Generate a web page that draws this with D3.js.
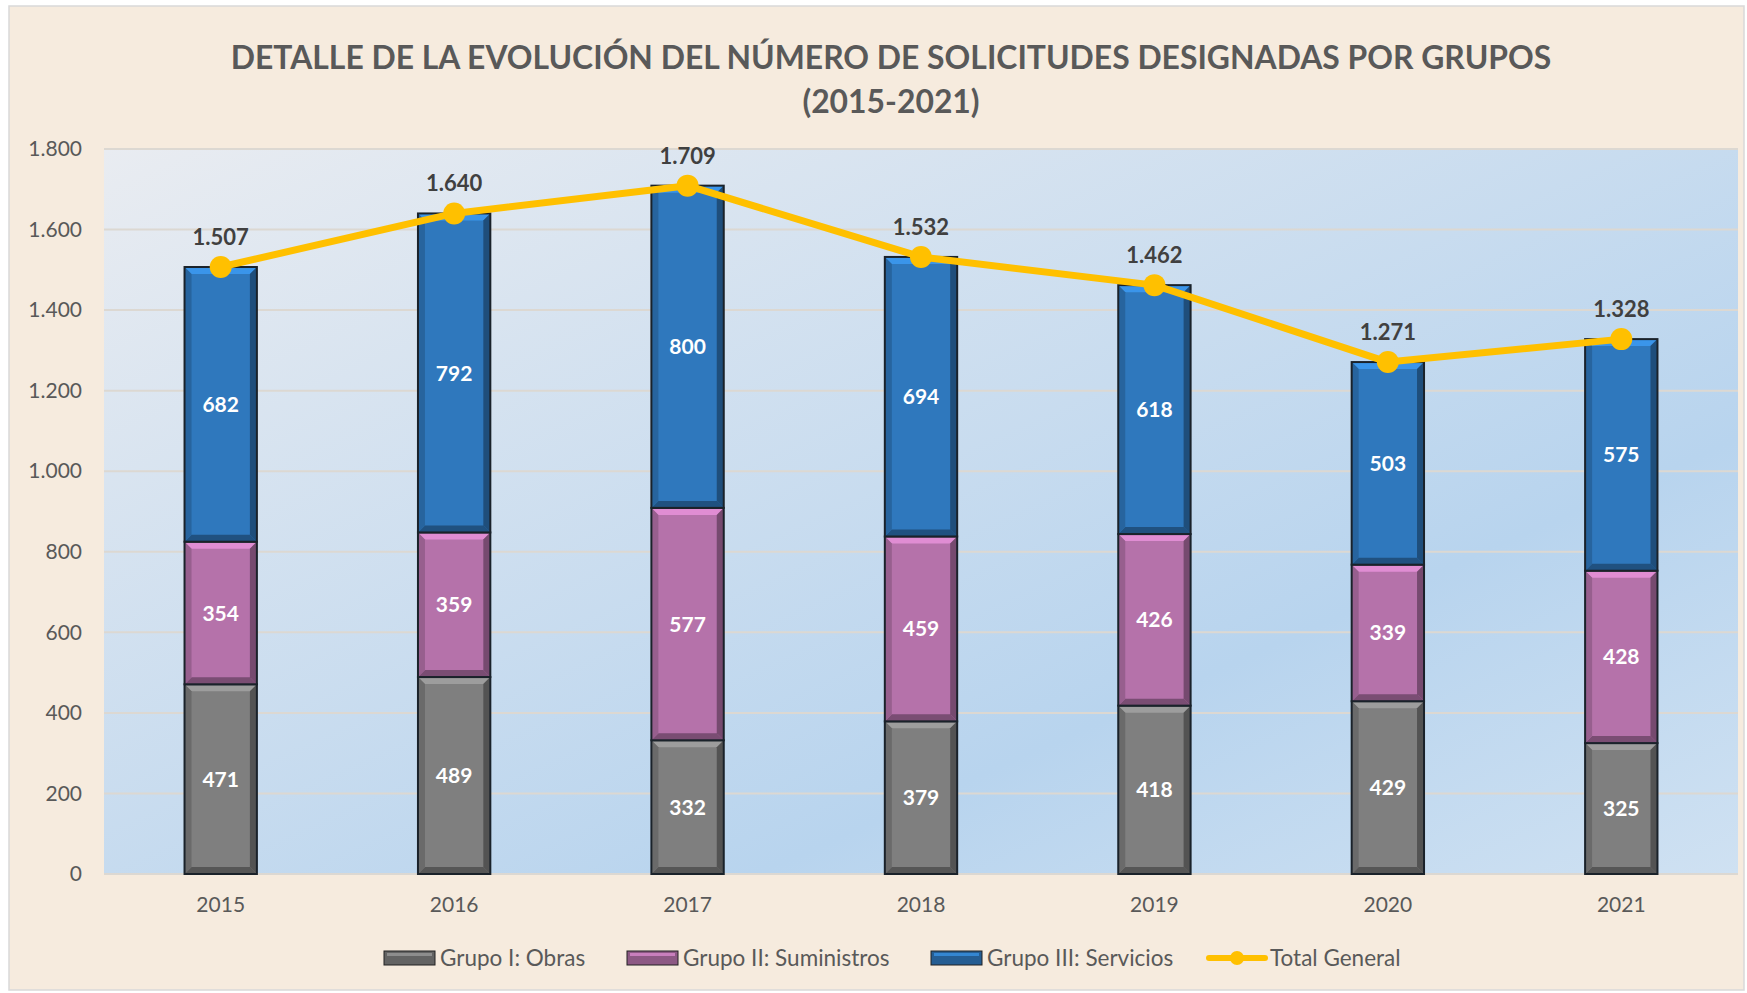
<!DOCTYPE html>
<html lang="es">
<head>
<meta charset="UTF-8">
<title>Detalle de la evolución del número de solicitudes designadas por grupos</title>
<script src="https://d3js.org/d3.v7.min.js"></script>
<style>
    body { margin: 0; background: #ffffff; }
    svg { display: block; font-family: Lato, 'Open Sans', sans-serif; }
</style>
</head>
<body>
<div id="chart"></div>
<script>
    // Datos
    const years = ["2015", "2016", "2017", "2018", "2019", "2020", "2021"];
    const obras = [471, 489, 332, 379, 418, 429, 325];
    const suministros = [354, 359, 577, 459, 426, 339, 428];
    const servicios = [682, 792, 800, 694, 618, 503, 575];
    const totalGeneral = [1507, 1640, 1709, 1532, 1462, 1271, 1328];
    const yTicks = [0, 200, 400, 600, 800, 1000, 1200, 1400, 1600, 1800];

    const seriesNames = ["Grupo I: Obras", "Grupo II: Suministros", "Grupo III: Servicios"];
    const seriesColors = ["#7f7f7f", "#b572aa", "#2f78bd"];
    const lineColor = "#ffc000";

    const width = 1747, height = 993;
    const plot = { left: 104, right: 1738, top: 149, bottom: 874 };

    const es = d3.formatLocale({ decimal: ",", thousands: ".", grouping: [3], currency: ["", "€"] });
    const fmt = es.format(",d");

    const svg = d3.select("#chart").append("svg")
        .attr("width", width).attr("height", height);

    const defs = svg.append("defs");
    const grad = defs.append("linearGradient").attr("id", "plotBg")
        .attr("x1", 0).attr("y1", 0).attr("x2", 1).attr("y2", 1);
    grad.append("stop").attr("offset", 0).attr("stop-color", "#e9ecf1");
    grad.append("stop").attr("offset", 0.7).attr("stop-color", "#b8d4ee");
    grad.append("stop").attr("offset", 1).attr("stop-color", "#cfe1f2");

    // fondo del gráfico
    svg.append("rect").attr("x", 9).attr("y", 6).attr("width", width - 12).attr("height", height - 9)
        .attr("fill", "#f6ebde").attr("stroke", "#d9d9d9").attr("stroke-width", 1.5);

    const x = d3.scaleBand().domain(years).range([plot.left, plot.right]).paddingInner(0.69).paddingOuter(0.345);
    const y = d3.scaleLinear().domain([0, 1800]).range([plot.bottom, plot.top]);

    svg.append("rect").attr("x", plot.left).attr("y", plot.top)
        .attr("width", plot.right - plot.left).attr("height", plot.bottom - plot.top)
        .attr("fill", "url(#plotBg)");

    // rejilla
    svg.append("g").selectAll("line").data(yTicks).join("line")
        .attr("x1", plot.left).attr("x2", plot.right)
        .attr("y1", d => y(d)).attr("y2", d => y(d))
        .attr("stroke", "#dcd8d2").attr("stroke-width", 2);

    // eje Y
    const yAxis = svg.append("g").attr("transform", `translate(${plot.left - 22},0)`)
        .call(d3.axisLeft(y).tickValues(yTicks).tickFormat(fmt).tickSize(0).tickPadding(0));
    yAxis.select(".domain").remove();
    yAxis.selectAll("text").attr("fill", "#595959").style("font-size", "21px").style("font-family", "Lato");

    // eje X
    const xAxis = svg.append("g").attr("transform", `translate(0,${plot.bottom})`)
        .call(d3.axisBottom(x).tickSize(0).tickPadding(23));
    xAxis.select(".domain").remove();
    xAxis.selectAll("text").attr("fill", "#595959").style("font-size", "21px").style("font-family", "Lato");

    // barras apiladas
    const rows = years.map((yr, i) => ({ year: yr, s0: obras[i], s1: suministros[i], s2: servicios[i] }));
    const stack = d3.stack().keys(["s0", "s1", "s2"])(rows);

    const bevel = 7;
    stack.forEach((layer, k) => {
        const base = d3.color(seriesColors[k]);
        const g = svg.append("g");
        layer.forEach((d, i) => {
            const x0 = x(years[i]), w = x.bandwidth();
            const yTop = y(d[1]), yBot = y(d[0]), h = yBot - yTop;
            const b = Math.min(bevel, h / 3);
            g.append("rect").attr("x", x0).attr("y", yTop).attr("width", w).attr("height", h)
                .attr("fill", base);
            const pts = [
                { c: base.brighter(0.6), p: [[x0, yTop], [x0 + w, yTop], [x0 + w - b, yTop + b], [x0 + b, yTop + b]] },
                { c: base.darker(1.1), p: [[x0, yBot], [x0 + w, yBot], [x0 + w - b, yBot - b], [x0 + b, yBot - b]] },
                { c: base.darker(0.5), p: [[x0, yTop], [x0 + b, yTop + b], [x0 + b, yBot - b], [x0, yBot]] },
                { c: base.darker(1.2), p: [[x0 + w, yTop], [x0 + w - b, yTop + b], [x0 + w - b, yBot - b], [x0 + w, yBot]] }
            ];
            pts.forEach(q => g.append("polygon").attr("points", q.p.map(v => v.join(",")).join(" ")).attr("fill", q.c));
            g.append("rect").attr("x", x0).attr("y", yTop).attr("width", w).attr("height", h)
                .attr("fill", "none").attr("stroke", "#1a222a").attr("stroke-width", 2);
            g.append("text").attr("x", x0 + w / 2).attr("y", (yTop + yBot) / 2)
                .attr("dy", "0.36em").attr("text-anchor", "middle")
                .attr("fill", "#ffffff").style("font-weight", 700).style("font-size", "21px")
                .text(d[1] - d[0]);
        });
    });

    // línea total
    const line = d3.line().x((d, i) => x(years[i]) + x.bandwidth() / 2).y(d => y(d));
    svg.append("path").datum(totalGeneral).attr("d", line)
        .attr("fill", "none").attr("stroke", lineColor).attr("stroke-width", 7).attr("stroke-linejoin", "round");
    svg.append("g").selectAll("circle").data(totalGeneral).join("circle")
        .attr("cx", (d, i) => x(years[i]) + x.bandwidth() / 2).attr("cy", d => y(d))
        .attr("r", 11).attr("fill", lineColor);
    svg.append("g").selectAll("text").data(totalGeneral).join("text")
        .attr("x", (d, i) => x(years[i]) + x.bandwidth() / 2).attr("y", d => y(d) - 30)
        .attr("dy", "0.36em").attr("text-anchor", "middle")
        .attr("fill", "#404040").style("font-weight", 700).style("font-size", "22px")
        .text(d => fmt(d));

    // título
    const title = svg.append("g").attr("fill", "#595959").style("font-weight", 700).attr("text-anchor", "middle");
    const t1 = title.append("text").attr("x", 891).attr("y", 58).attr("dy", "0.36em")
        .style("font-size", "32px").text("DETALLE DE LA EVOLUCIÓN DEL NÚMERO DE SOLICITUDES DESIGNADAS POR GRUPOS");
    const fs = 32 * 1321 / t1.node().getComputedTextLength();
    t1.style("font-size", fs + "px");
    title.append("text").attr("x", 891).attr("y", 102).attr("dy", "0.36em")
        .style("font-size", fs + "px").text("(2015-2021)");

    // leyenda
    const legend = svg.append("g").attr("transform", "translate(0,958)");
    const legendItems = [
        { name: seriesNames[0], color: seriesColors[0], x: 384, type: "bar" },
        { name: seriesNames[1], color: seriesColors[1], x: 627, type: "bar" },
        { name: seriesNames[2], color: seriesColors[2], x: 931, type: "bar" },
        { name: "Total General", color: lineColor, x: 1209, type: "line" }
    ];
    legendItems.forEach(it => {
        if (it.type === "bar") {
            const c = d3.color(it.color).darker(0.7);
            legend.append("rect").attr("x", it.x).attr("y", -7).attr("width", 51).attr("height", 14)
                .attr("fill", c).attr("stroke", "#222").attr("stroke-width", 1);
            legend.append("rect").attr("x", it.x + 3).attr("y", -5).attr("width", 45).attr("height", 3)
                .attr("fill", d3.color(it.color).brighter(0.3));
        } else {
            legend.append("line").attr("x1", it.x).attr("x2", it.x + 56).attr("y1", 0).attr("y2", 0)
                .attr("stroke", it.color).attr("stroke-width", 6).attr("stroke-linecap", "round");
            legend.append("circle").attr("cx", it.x + 28).attr("cy", 0).attr("r", 7).attr("fill", it.color);
        }
        legend.append("text").attr("x", it.x + (it.type === "bar" ? 56 : 61)).attr("y", 0).attr("dy", "0.36em")
            .attr("fill", "#595959").style("font-size", "22.5px").text(it.name);
    });
</script>
</body>
</html>
